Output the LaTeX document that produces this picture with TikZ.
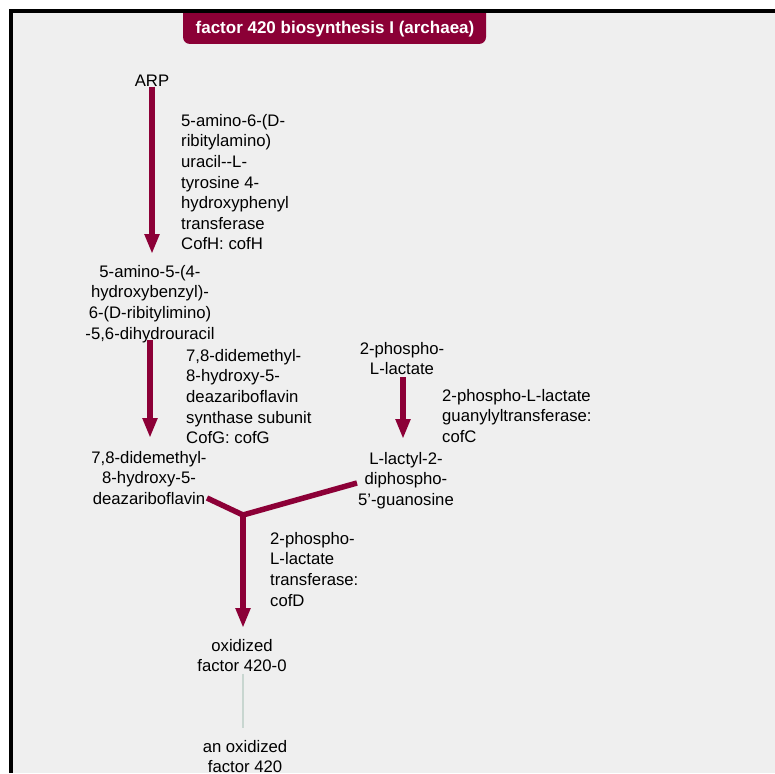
\documentclass[tikz,border=0pt]{standalone}
\usepackage{fontspec}
\setmainfont{Liberation Sans}
\usetikzlibrary{arrows.meta}
\definecolor{bgc}{RGB}{239,239,239}
\definecolor{rxnc}{RGB}{140,0,55}
\definecolor{titlec}{RGB}{139,0,54}
\definecolor{thinc}{RGB}{200,214,208}
\tikzset{
  mol/.style={inner sep=0pt, align=center, anchor=north, font=\fontsize{16.7}{20.6}\selectfont},
  enz/.style={inner sep=0pt, align=left, anchor=north west, font=\fontsize{16.7}{20.6}\selectfont},
  rxn/.style={draw=rxnc, line width=5.5pt, -{Triangle[length=20pt,width=14pt]}},
  rxnline/.style={draw=rxnc, line width=5.5pt, line join=miter},
  thinline/.style={draw=thinc, line width=1.5pt}
}
\begin{document}
\begin{tikzpicture}[x=1pt,y=-1pt]
\useasboundingbox (0,0) rectangle (775,773);
\fill[white] (0,0) rectangle (775,773);
\fill[bgc] (13,13) rectangle (775,773);
% title
\fill[titlec] (183,12) -- (183,37) to[out=-90,in=180] (190,44) -- (479,44) to[out=0,in=-90] (486,37) -- (486,12) -- cycle;
\node[inner sep=0pt, text=white, font=\bfseries\fontsize{17}{20}\selectfont] (title) at (335,29.5) {factor 420 biosynthesis I (archaea)};
% frame
\fill[black] (9,9) rectangle (775,13);
\fill[black] (9,9) rectangle (13,773);
% molecules
\node[mol] (arp) at (152,75) {ARP};
\node[mol] (n2) at (150,265) {5-amino-5-(4-\\hydroxybenzyl)-\\6-(D-ribitylimino)\\-5,6-dihydrouracil};
\node[mol] (n3) at (149,451) {7,8-didemethyl-\\8-hydroxy-5-\\deazariboflavin};
\node[mol] (n4) at (402,342) {2-phospho-\\L-lactate};
\node[mol] (n5) at (406,452) {L-lactyl-2-\\diphospho-\\5’-guanosine};
\node[mol] (n6) at (242,639) {oxidized\\factor 420-0};
\node[mol] (n7) at (245,740) {an oxidized\\factor 420};
% enzymes
\node[enz] (e1) at (181,114) {5-amino-6-(D-\\ribitylamino)\\uracil-{}-L-\\tyrosine 4-\\hydroxyphenyl\\transferase\\CofH: cofH};
\node[enz] (e2) at (186,349) {7,8-didemethyl-\\8-hydroxy-5-\\deazariboflavin\\synthase subunit\\CofG: cofG};
\node[enz] (e3) at (442,389) {2-phospho-L-lactate\\guanylyltransferase:\\cofC};
\node[enz] (e4) at (270,532) {2-phospho-\\L-lactate\\transferase:\\cofD};
% reactions
\draw[rxn, shorten >=11pt] (arp.south) -- (arp.south |- n2.north);
\draw[rxn, shorten <=-3pt, shorten >=13pt] (n2.south) -- (n2.south |- n3.north);
\draw[rxn, shorten <=2pt, shorten >=13pt] ([xshift=1pt]n4.south) -- ([xshift=1pt]n4.south |- n5.north);
\coordinate (j) at (243,515);
\coordinate (jl) at (207,498);
\coordinate (jr) at (357,483);
\draw[rxnline] (jl) -- (j) -- (jr);
\draw[rxn, shorten >=11pt] (j) -- (j |- n6.north);
\draw[thinline, shorten <=1.5pt, shorten >=12pt] (n6.south -| j) -- (j |- n7.north);
\end{tikzpicture}
\end{document}
